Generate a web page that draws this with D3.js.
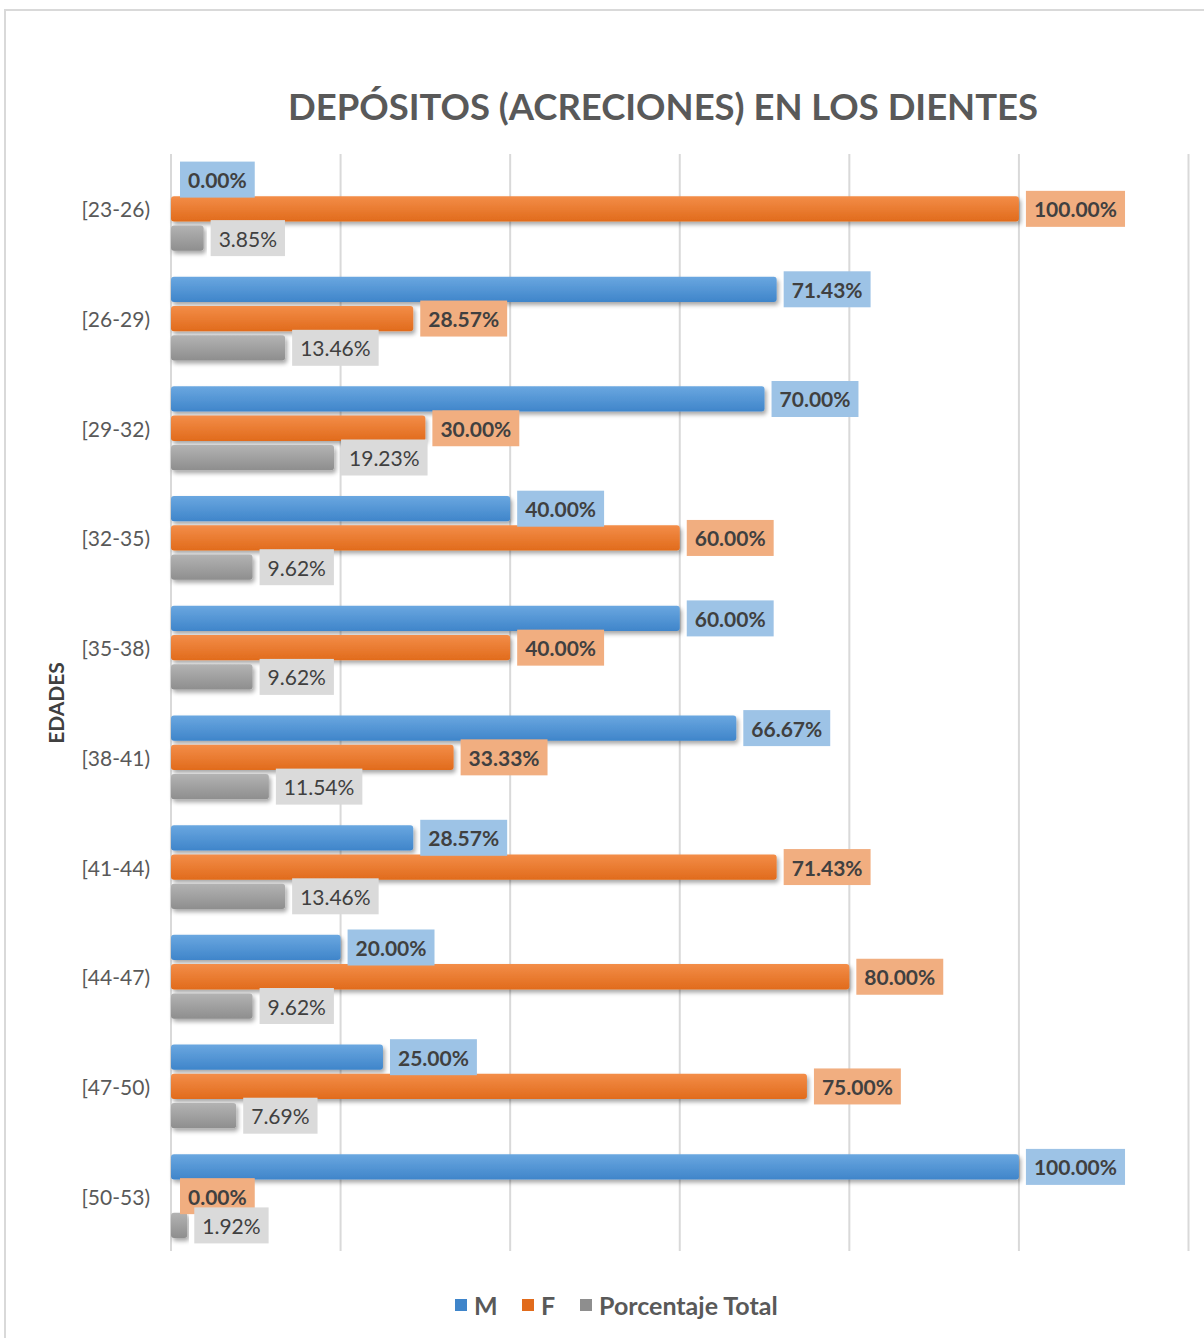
<!DOCTYPE html>
<html>
<head>
<meta charset="utf-8">
<script src="https://cdn.jsdelivr.net/npm/d3@7"></script>
<style>
  body { margin: 0; background: #fff; }
  text { font-family: Lato, "Open Sans", sans-serif; }
</style>
</head>
<body>
<div id="chart"></div>
<script>
"use strict";

const categories = ["[23-26)", "[26-29)", "[29-32)", "[32-35)", "[35-38)", "[38-41)", "[41-44)", "[44-47)", "[47-50)", "[50-53)"];
const seriesNames = ["M", "F", "Porcentaje Total"];
const mValues = [0, 71.43, 70, 40, 60, 66.67, 28.57, 20, 25, 100];
const fValues = [100, 28.57, 30, 60, 40, 33.33, 71.43, 80, 75, 0];
const totalValues = [3.85, 13.46, 19.23, 9.62, 9.62, 11.54, 13.46, 9.62, 7.69, 1.92];
const xTicks = [0, 20, 40, 60, 80, 100, 120];

const size = { width: 1204, height: 1338 };
const plot = { left: 171, right: 1188.5, top: 154, bottom: 1251 };

const colors = [
  { top: "#6aa7e0", bottom: "#3f85ca", box: "#9dc3e6", bold: true },
  { top: "#f38d48", bottom: "#e16b1c", box: "#f1ae80", bold: true },
  { top: "#b3b3b3", bottom: "#8e8e8e", box: "#dadada", bold: false }
];

const svg = d3.select("#chart").append("svg")
  .attr("width", size.width)
  .attr("height", size.height);

const defs = svg.append("defs");
colors.forEach(function (c, i) {
  let g = defs.append("linearGradient")
    .attr("id", "grad" + i)
    .attr("x1", 0).attr("y1", 0).attr("x2", 0).attr("y2", 1);
  g.append("stop").attr("offset", "0%").attr("stop-color", c.top);
  g.append("stop").attr("offset", "100%").attr("stop-color", c.bottom);
});
defs.append("filter").attr("id", "shadow")
  .attr("x", "-5%").attr("y", "-30%").attr("width", "115%").attr("height", "190%")
  .append("feDropShadow")
  .attr("dx", 2).attr("dy", 3).attr("stdDeviation", 2.2)
  .attr("flood-color", "#000").attr("flood-opacity", 0.35);

// chart frame
svg.append("path")
  .attr("d", "M5,1338 V10 H1204")
  .attr("fill", "none")
  .attr("stroke", "#d9d9d9")
  .attr("stroke-width", 2);

// title
svg.append("text")
  .attr("x", 663)
  .attr("y", 120)
  .attr("text-anchor", "middle")
  .attr("textLength", 750)
  .attr("lengthAdjust", "spacingAndGlyphs")
  .style("font-size", "37px")
  .style("font-weight", "bold")
  .style("fill", "#595959")
  .text("DEPÓSITOS (ACRECIONES) EN LOS DIENTES");

const xScale = d3.scaleLinear().domain([0, 120]).range([plot.left, plot.right]);
const yScale = d3.scaleBand().domain(categories).range([plot.top, plot.bottom])
  .paddingInner(0.2).paddingOuter(0.1);
const ySub = d3.scaleBand().domain([0, 1, 2]).range([0, yScale.bandwidth()]);

// gridlines
svg.append("g").selectAll("line")
  .data(xTicks)
  .enter()
  .append("line")
  .attr("x1", d => xScale(d))
  .attr("x2", d => xScale(d))
  .attr("y1", plot.top)
  .attr("y2", plot.bottom)
  .attr("stroke", "#d9d9d9")
  .attr("stroke-width", 2);

// category labels
svg.append("g").selectAll("text")
  .data(categories)
  .enter()
  .append("text")
  .attr("x", 150)
  .attr("y", d => yScale(d) + yScale.bandwidth() / 2)
  .attr("text-anchor", "end")
  .attr("dominant-baseline", "central")
  .style("font-size", "21px")
  .style("fill", "#595959")
  .text(d => d);

// axis title
svg.append("text")
  .attr("transform", "translate(64,703) rotate(-90)")
  .attr("text-anchor", "middle")
  .style("font-size", "21px")
  .style("font-weight", "bold")
  .style("fill", "#404040")
  .text("EDADES");

const allSeries = [mValues, fValues, totalValues];
const barH = ySub.bandwidth() - 4;

const bars = svg.append("g");
const labels = svg.append("g");

allSeries.forEach(function (values, s) {
  bars.selectAll(".bar" + s)
    .data(values)
    .enter()
    .append("rect")
    .attr("class", "bar" + s)
    .attr("x", xScale(0))
    .attr("y", (d, i) => yScale(categories[i]) + ySub(s) + 2)
    .attr("width", d => Math.max(xScale(d) - xScale(0), d > 0 ? 3 : 0))
    .attr("height", barH)
    .attr("rx", 3)
    .attr("fill", "url(#grad" + s + ")")
    .attr("filter", "url(#shadow)");
});

allSeries.forEach(function (values, s) {
  values.forEach(function (v, i) {
    let cy = yScale(categories[i]) + ySub(s) + ySub.bandwidth() / 2;
    let x0 = xScale(v) + (v > 0 ? 7 : 9);
    let g = labels.append("g");
    let box = g.append("rect")
      .attr("fill", colors[s].box);
    let t = g.append("text")
      .attr("x", x0 + 8)
      .attr("y", cy)
      .attr("dominant-baseline", "central")
      .style("font-size", "21px")
      .style("font-weight", colors[s].bold ? "bold" : "normal")
      .style("fill", "#404040")
      .text(v.toFixed(2) + "%");
    let w = t.node().getComputedTextLength();
    box.attr("x", x0)
      .attr("y", cy - 18)
      .attr("width", w + 16)
      .attr("height", 36);
  });
});

// legend
const legend = svg.append("g");
const legendX = [455, 522, 580];
seriesNames.forEach(function (name, s) {
  legend.append("rect")
    .attr("x", legendX[s])
    .attr("y", 1299)
    .attr("width", 12)
    .attr("height", 12)
    .attr("fill", colors[s].bottom);
  legend.append("text")
    .attr("x", legendX[s] + 19)
    .attr("y", 1305)
    .attr("dominant-baseline", "central")
    .style("font-size", "25px")
    .style("font-weight", "bold")
    .style("fill", "#595959")
    .text(name);
});
</script>
</body>
</html>
